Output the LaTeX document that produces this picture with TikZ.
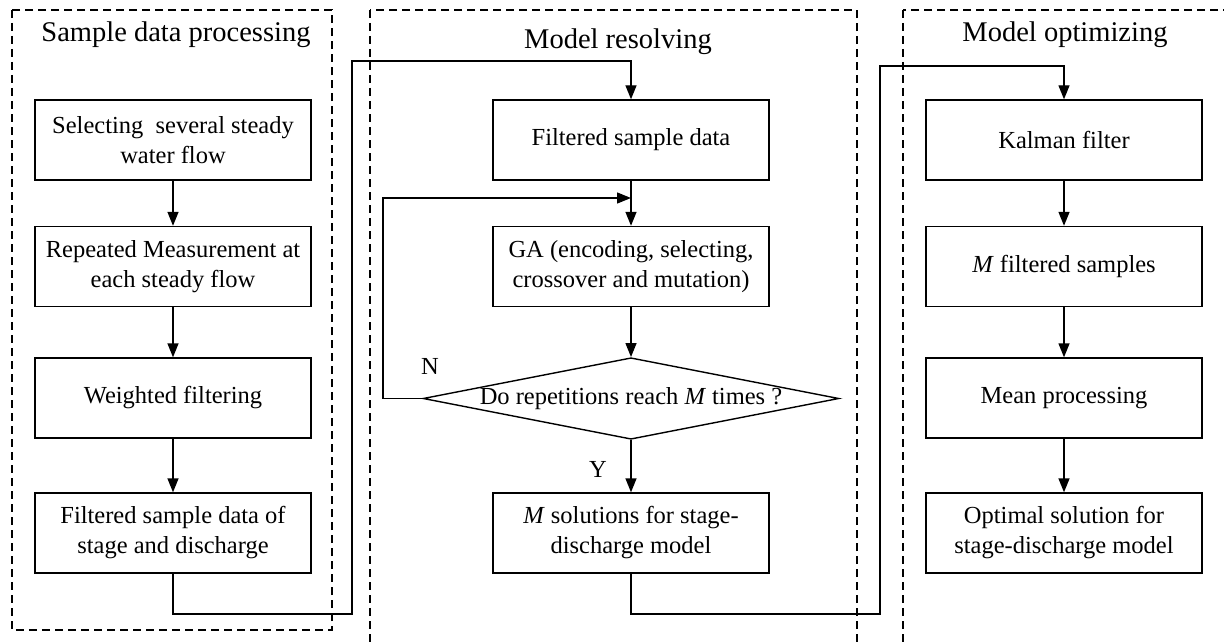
\documentclass[tikz,border=0pt]{standalone}
\usepackage{fontspec}
\setmainfont{Liberation Serif}
\usepackage{tikz}
\usetikzlibrary{arrows.meta,shapes.geometric}

\begin{document}
\begin{tikzpicture}[x=1pt,y=-1pt,
    box/.style={draw,line width=1.4pt,minimum width=276pt,minimum height=80pt,
        align=center,inner sep=0pt,font=\fontsize{24.5}{30}\selectfont},
    decide/.style={draw,diamond,line width=1.4pt,aspect=5.1,minimum width=414pt,
        minimum height=81pt,inner sep=0pt,font=\fontsize{24.5}{30}\selectfont},
    frame/.style={line width=1.3pt,dash pattern=on 8pt off 5pt},
    title/.style={font=\fontsize{28.5}{32}\selectfont,anchor=base},
    lbl/.style={font=\fontsize{24.5}{28}\selectfont},
    arr/.style={line width=1.4pt,-{Triangle[length=14pt,width=11pt]}},
    conn/.style={line width=1.4pt}]
    \useasboundingbox (0,0) rectangle (1224,642);
    \clip (0,0) rectangle (1224,642);

    % frames
    \draw[frame] (12,10) rectangle (332,630);
    \draw[frame] (370,10) rectangle (857,700);
    \draw[frame] (903,10) rectangle (1300,700);
    \node[title] (tleft) at (176,42) {Sample data processing};
    \node[title] (tmid) at (618,49) {Model resolving};
    \node[title] (tright) at (1065,42) {Model optimizing};

    % sample data processing
    \node[box] (s1) at (173,140) {Selecting\ \ several steady\\water flow};
    \node[box] (s2) at (173,266.5) {Repeated Measurement at\\each steady flow};
    \node[box] (s3) at (173,398) {Weighted filtering};
    \node[box] (s4) at (173,533) {Filtered sample data of\\stage and discharge};

    % model resolving
    \node[box] (m1) at (631,140) {Filtered sample data};
    \node[box] (m2) at (631,266.5) {GA (encoding, selecting,\\crossover and mutation)};
    \node[decide] (dec) at (631,398.5) {Do repetitions reach \textit{M} times ?};
    \node[box] (m3) at (631,533) {\textit{M} solutions for stage-\\discharge model};

    % model optimizing
    \node[box] (o1) at (1064,140) {Kalman filter};
    \node[box] (o2) at (1064,266.5) {\textit{M} filtered samples};
    \node[box] (o3) at (1064,398) {Mean processing};
    \node[box] (o4) at (1064,533) {Optimal solution for\\stage-discharge model};

    % flow inside frames
    \draw[arr] (s1) -- (s2);
    \draw[arr] (s2) -- (s3);
    \draw[arr] (s3) -- (s4);
    \draw[arr] (m1) -- (m2);
    \draw[arr] (m2.south) -- (dec.north);
    \draw[arr] (dec.south) -- (m3.north);
    \draw[arr] (o1) -- (o2);
    \draw[arr] (o2) -- (o3);
    \draw[arr] (o3) -- (o4);

    % loop back
    \coordinate (back) at (383,198);
    \coordinate (join) at (631,198);
    \draw[arr] (dec.west) -| (back) -- (join);
    \node[lbl] (nlbl) at (430,366) {N};
    \node[lbl] (ylbl) at (598,469) {Y};

    % links between frames
    \coordinate (la) at (352,614);
    \coordinate (lb) at (352,61);
    \draw[arr] (s4.south) |- (la) -- (lb) -| (m1.north);
    \coordinate (ra) at (880,614);
    \coordinate (rb) at (880,66);
    \draw[arr] (m3.south) |- (ra) -- (rb) -| (o1.north);
\end{tikzpicture}
\end{document}
